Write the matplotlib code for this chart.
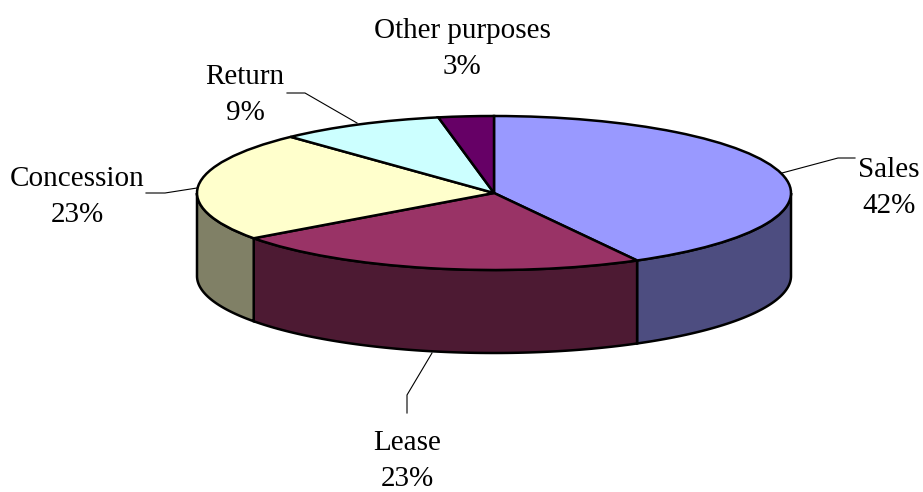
# -*- coding: utf-8 -*-
import numpy as np
import matplotlib
matplotlib.use('Agg')
import matplotlib.pyplot as plt

labels = ['Sales', 'Lease', 'Concession', 'Return', 'Other purposes']
values = [42, 23, 23, 9, 3]
top_colors = ['#9999FF', '#993366', '#FFFFCC', '#CCFFFF', '#660066']
side_colors = ['#4D4D80', '#4D1A33', '#808066', '#668080', '#330033']

W, H = 923, 492
cx, cy = 494, 193
rx, ry = 297, 77
depth = 83

plt.rcParams['font.family'] = ['Liberation Serif', 'DejaVu Serif']

fig = plt.figure(figsize=(W / 100, H / 100), dpi=100)
ax = fig.add_axes([0, 0, 1, 1])

# top face, the axes limits squash the unit pie into the ellipse
ax.pie(values, colors=top_colors, startangle=90, counterclock=False, radius=1,
       wedgeprops=dict(edgecolor='black', linewidth=1.8, zorder=3))
ax.set_aspect('auto')
ax.set_xlim(-cx / rx, (W - cx) / rx)
ax.set_ylim((cy - H) / ry, cy / ry)
ax.axis('off')

def px(x, y):
    return (x - cx) / rx, (cy - y) / ry

# side wall, only the front half of the rim shows
d = depth / ry
edges = np.cumsum([0] + values) / sum(values) * 360
for i in range(len(values)):
    hi = min(90 - edges[i], 0)
    lo = max(90 - edges[i + 1], -180)
    if lo >= hi:
        continue
    t = np.radians(np.linspace(hi, lo, 80))
    xs = np.cos(t)
    ys = np.sin(t)
    ax.fill(np.r_[xs, xs[::-1]], np.r_[ys, ys[::-1] - d], facecolor=side_colors[i],
            edgecolor='black', linewidth=1.8, zorder=2)

# leader lines
leaders = [
    ([782, 838, 855], [173, 158, 158]),
    ([432, 407, 407], [353, 395, 413]),
    ([197, 165, 146], [188, 193, 193]),
    ([357, 305, 287], [123, 93, 93]),
]
for xs, ys in leaders:
    p = [px(a, b) for a, b in zip(xs, ys)]
    ax.plot([q[0] for q in p], [q[1] for q in p], color='black', linewidth=0.8, zorder=1)

label_pos = [(889, 188), (407, 461), (77, 197), (245, 95), (462, 49)]
for name, v, (x, y) in zip(labels, values, label_pos):
    tx, ty = px(x, y)
    ax.text(tx, ty, f'{name}\n{v}%', ha='center', va='center', fontsize=21,
            linespacing=1.52, color='black', zorder=4)

fig.savefig('out.png', dpi=100, facecolor='white')
